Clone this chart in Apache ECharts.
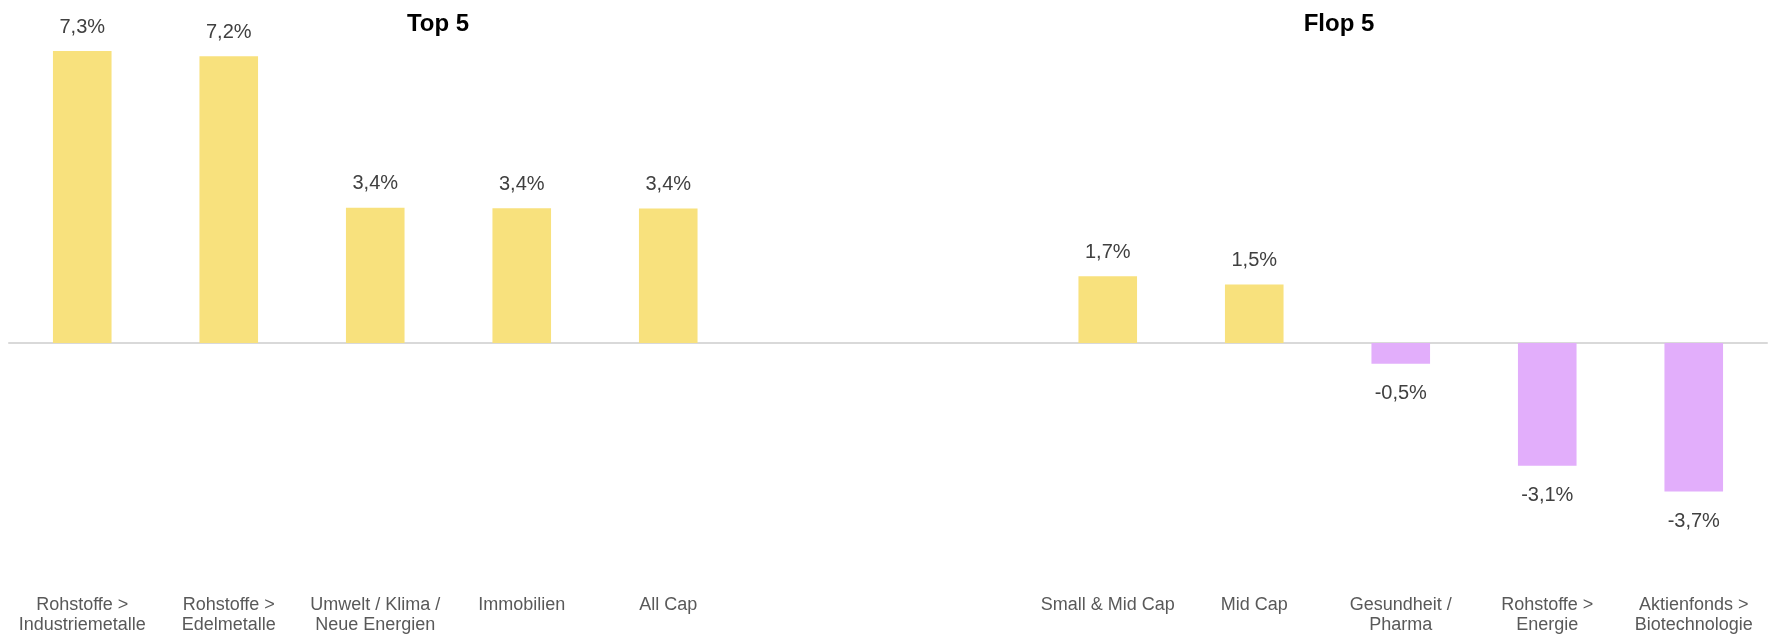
<!DOCTYPE html>
<html>
<head>
<meta charset="utf-8">
<script src="https://cdn.jsdelivr.net/npm/echarts@6/dist/echarts.min.js"></script>
<style>
  html, body { margin: 0; padding: 0; background: #fff; }
  #chart { width: 1775px; height: 636px; }
</style>
</head>
<body>
<div id="chart"></div>
<script>
// Daten
const topNames = ['Rohstoffe >\nIndustriemetalle', 'Rohstoffe >\nEdelmetalle', 'Umwelt / Klima /\nNeue Energien', 'Immobilien', 'All Cap'];
const topValues = [7.3, 7.17, 3.38, 3.37, 3.36];
const flopNames = ['Small & Mid Cap', 'Mid Cap', 'Gesundheit /\nPharma', 'Rohstoffe >\nEnergie', 'Aktienfonds >\nBiotechnologie'];
const flopValues = [1.67, 1.46, -0.52, -3.07, -3.71];
const gapSlots = 2;

// 12 Plaetze: Top 5, zwei leere, Flop 5
const categories = topNames.concat(new Array(gapSlots).fill(''), flopNames);
const values = topValues.concat(new Array(gapSlots).fill(null), flopValues);

const fontFamily = '"Liberation Sans", Arial, sans-serif';

let myChart = echarts.init(document.getElementById('chart'), null, { renderer: 'canvas' });

let seriesData = values.map(v => {
    if (v === null) return null;
    return {
        value: v,
        itemStyle: { color: v >= 0 ? '#F8E17D' : '#E2AEFB' },
        label: { position: v >= 0 ? 'top' : 'bottom', distance: v >= 0 ? 14 : 20 }
    };
});

let option = {
    animation: false,
    title: [
        {
            text: 'Top 5', left: 438, top: 12, textAlign: 'center', padding: 0,
            textStyle: { fontSize: 24, fontWeight: 'bold', color: '#000', fontFamily: fontFamily }
        },
        {
            text: 'Flop 5', left: 1339, top: 12, textAlign: 'center', padding: 0,
            textStyle: { fontSize: 24, fontWeight: 'bold', color: '#000', fontFamily: fontFamily }
        }
    ],
    grid: { // Nulllinie bei y=343
        left: 9,
        right: 8,
        top: 23,
        bottom: 53
    },
    xAxis: [
        {
            type: 'category',
            data: categories,
            position: 'bottom',
            axisLine: { onZero: true, lineStyle: { color: '#d9d9d9', width: 2 } },
            axisTick: { show: false },
            axisLabel: { show: false }
        },
        {
            type: 'category',
            data: categories,
            position: 'bottom',
            axisLine: { show: false, onZero: false },
            axisTick: { show: false },
            axisLabel: {
                interval: 0,
                margin: 12,
                color: '#595959',
                fontSize: 18,
                lineHeight: 20,
                fontFamily: fontFamily
            }
        }
    ],
    yAxis: {
        type: 'value',
        min: -6,
        max: 8,
        show: false,
        splitLine: { show: false }
    },
    series: [
        {
            type: 'bar',
            xAxisIndex: 0,
            data: seriesData,
            barWidth: '40%',
            label: {
                show: true,
                color: '#404040',
                fontSize: 20,
                fontFamily: fontFamily,
                formatter: p => p.value.toFixed(1).replace('.', ',') + '%'
            }
        }
    ]
};
myChart.setOption(option);
</script>
</body>
</html>
